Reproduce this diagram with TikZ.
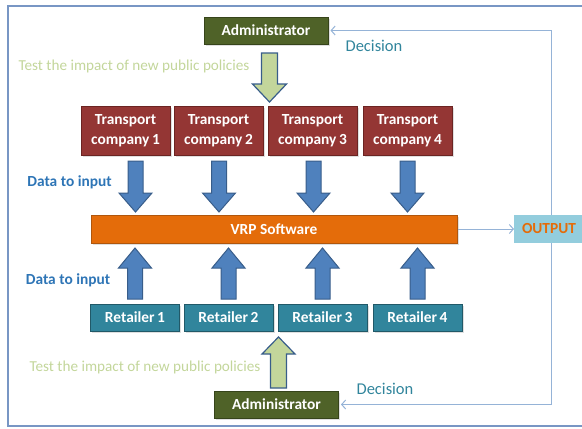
\documentclass[tikz,border=0pt]{standalone}
\usepackage{fontspec}
\setmainfont{Carlito}
\usetikzlibrary{arrows.meta,shadows}

\definecolor{adminfill}{HTML}{4F6228}
\definecolor{adminline}{HTML}{36441A}
\definecolor{tcfill}{HTML}{943634}
\definecolor{tcline}{HTML}{6B2422}
\definecolor{retfill}{HTML}{31859C}
\definecolor{retline}{HTML}{215968}
\definecolor{vrpfill}{HTML}{E46C0A}
\definecolor{vrpline}{HTML}{B0560C}
\definecolor{outfill}{HTML}{93CDDD}
\definecolor{bluefill}{HTML}{4F81BD}
\definecolor{blueline}{HTML}{385D8A}
\definecolor{greenfill}{HTML}{C3D69B}
\definecolor{decisioncol}{HTML}{31859C}
\definecolor{inputcol}{HTML}{2E75B6}
\definecolor{fbline}{HTML}{95B3D7}
\definecolor{framecol}{HTML}{7896C4}

% block arrow: style, x, y tail, y head base, y tip, half shaft, half head
\newcommand\vblockarrow[7]{%
  \draw[#1] ({#2-#6},#3) -- ({#2-#6},#4) -- ({#2-#7},#4) -- (#2,#5)
    -- ({#2+#7},#4) -- ({#2+#6},#4) -- ({#2+#6},#3) -- cycle;}

\tikzset{
  bigfont/.style={font=\bfseries\fontsize{15.4}{20}\selectfont},
  box/.style={draw, line width=1pt, text=white, bigfont, align=center,
    inner sep=0pt,
    drop shadow={opacity=0.25, shadow xshift=1.5pt, shadow yshift=-1.5pt}},
  adminbox/.style={box, fill=adminfill, draw=adminline,
    minimum width=124pt, minimum height=27pt},
  tcbox/.style={box, fill=tcfill, draw=tcline,
    minimum width=89pt, minimum height=49pt},
  retbox/.style={box, fill=retfill, draw=retline,
    minimum width=89pt, minimum height=27pt},
  vrpbox/.style={box, fill=vrpfill, draw=vrpline,
    minimum width=366pt, minimum height=28pt},
  outbox/.style={fill=outfill, text=vrpfill, bigfont,
    minimum width=70pt, minimum height=28pt, inner sep=0pt},
  bluearrow/.style={fill=bluefill, draw=blueline, line width=1pt},
  greenarrow/.style={fill=greenfill, draw=blueline, line width=1.2pt},
  fb/.style={draw=fbline, line width=1pt,
    -{Straight Barb[length=4pt,width=9pt]}},
  decision/.style={text=decisioncol, font=\fontsize{16.5}{20}\selectfont},
  policy/.style={text=greenfill, font=\fontsize{15.2}{20}\selectfont},
  datainput/.style={text=inputcol, bigfont},
}

\begin{document}
\begin{tikzpicture}[x=1pt,y=-1pt]
\useasboundingbox (0,0) rectangle (582,429);

% outer frame (its right side runs past the page edge)
\draw[framecol, line width=1.5pt] (8,6) rectangle (600,426);

% boxes
\node[adminbox] (adminT) at (266,30.5) {Administrator};
\node[tcbox] (tc1) at (125.5,130.5) {Transport\\company\,1};
\node[tcbox] (tc2) at (218.5,130.5) {Transport\\company\,2};
\node[tcbox] (tc3) at (312.5,130.5) {Transport\\company\,3};
\node[tcbox] (tc4) at (407.5,130.5) {Transport\\company\,4};
\node[vrpbox] (vrp) at (274,229) {VRP Software};
\node[retbox] (ret1) at (135,317.5) {Retailer\,1};
\node[retbox] (ret2) at (228.5,317.5) {Retailer\,2};
\node[retbox] (ret3) at (322.5,317.5) {Retailer\,3};
\node[retbox] (ret4) at (417.5,317.5) {Retailer\,4};
\node[adminbox] (adminB) at (276.5,404.5) {Administrator};

% feedback from the output back to both administrators
\coordinate (fbx) at (551,229);
\draw[fb] (vrp.east) -- (514,229);
\draw[fb, shorten >=2pt] (fbx) |- (adminT.east);
\draw[fb, shorten >=2pt] (fbx) |- (adminB.east);
\node[outbox] (output) at (549,229) {OUTPUT};

% block arrows
\vblockarrow{greenarrow}{269.5}{53}{84}{102}{8}{17}
\vblockarrow{bluearrow}{135.5}{161}{193}{212}{7.5}{16.5}
\vblockarrow{bluearrow}{219}{161}{193}{212}{7.5}{16.5}
\vblockarrow{bluearrow}{313.5}{161}{193}{212}{7.5}{16.5}
\vblockarrow{bluearrow}{407.5}{161}{193}{212}{7.5}{16.5}
\vblockarrow{bluearrow}{135}{299}{268}{248}{7.5}{16.5}
\vblockarrow{bluearrow}{228.5}{299}{268}{248}{7.5}{16.5}
\vblockarrow{bluearrow}{322.5}{299}{268}{248}{7.5}{16.5}
\vblockarrow{bluearrow}{417.5}{299}{268}{248}{7.5}{16.5}
\vblockarrow{greenarrow}{278.5}{388}{354}{337}{8}{16.5}

% labels
\node[decision] (decT) at (374,46) {Decision};
\node[decision] (decB) at (385,389) {Decision};
\node[policy] (polT) at (134,66) {Test the impact of new public policies};
\node[policy] (polB) at (145,367) {Test the impact of new public policies};
\node[datainput] (inT) at (69.5,182) {Data to input};
\node[datainput] (inB) at (68,280) {Data to input};
\end{tikzpicture}
\end{document}
